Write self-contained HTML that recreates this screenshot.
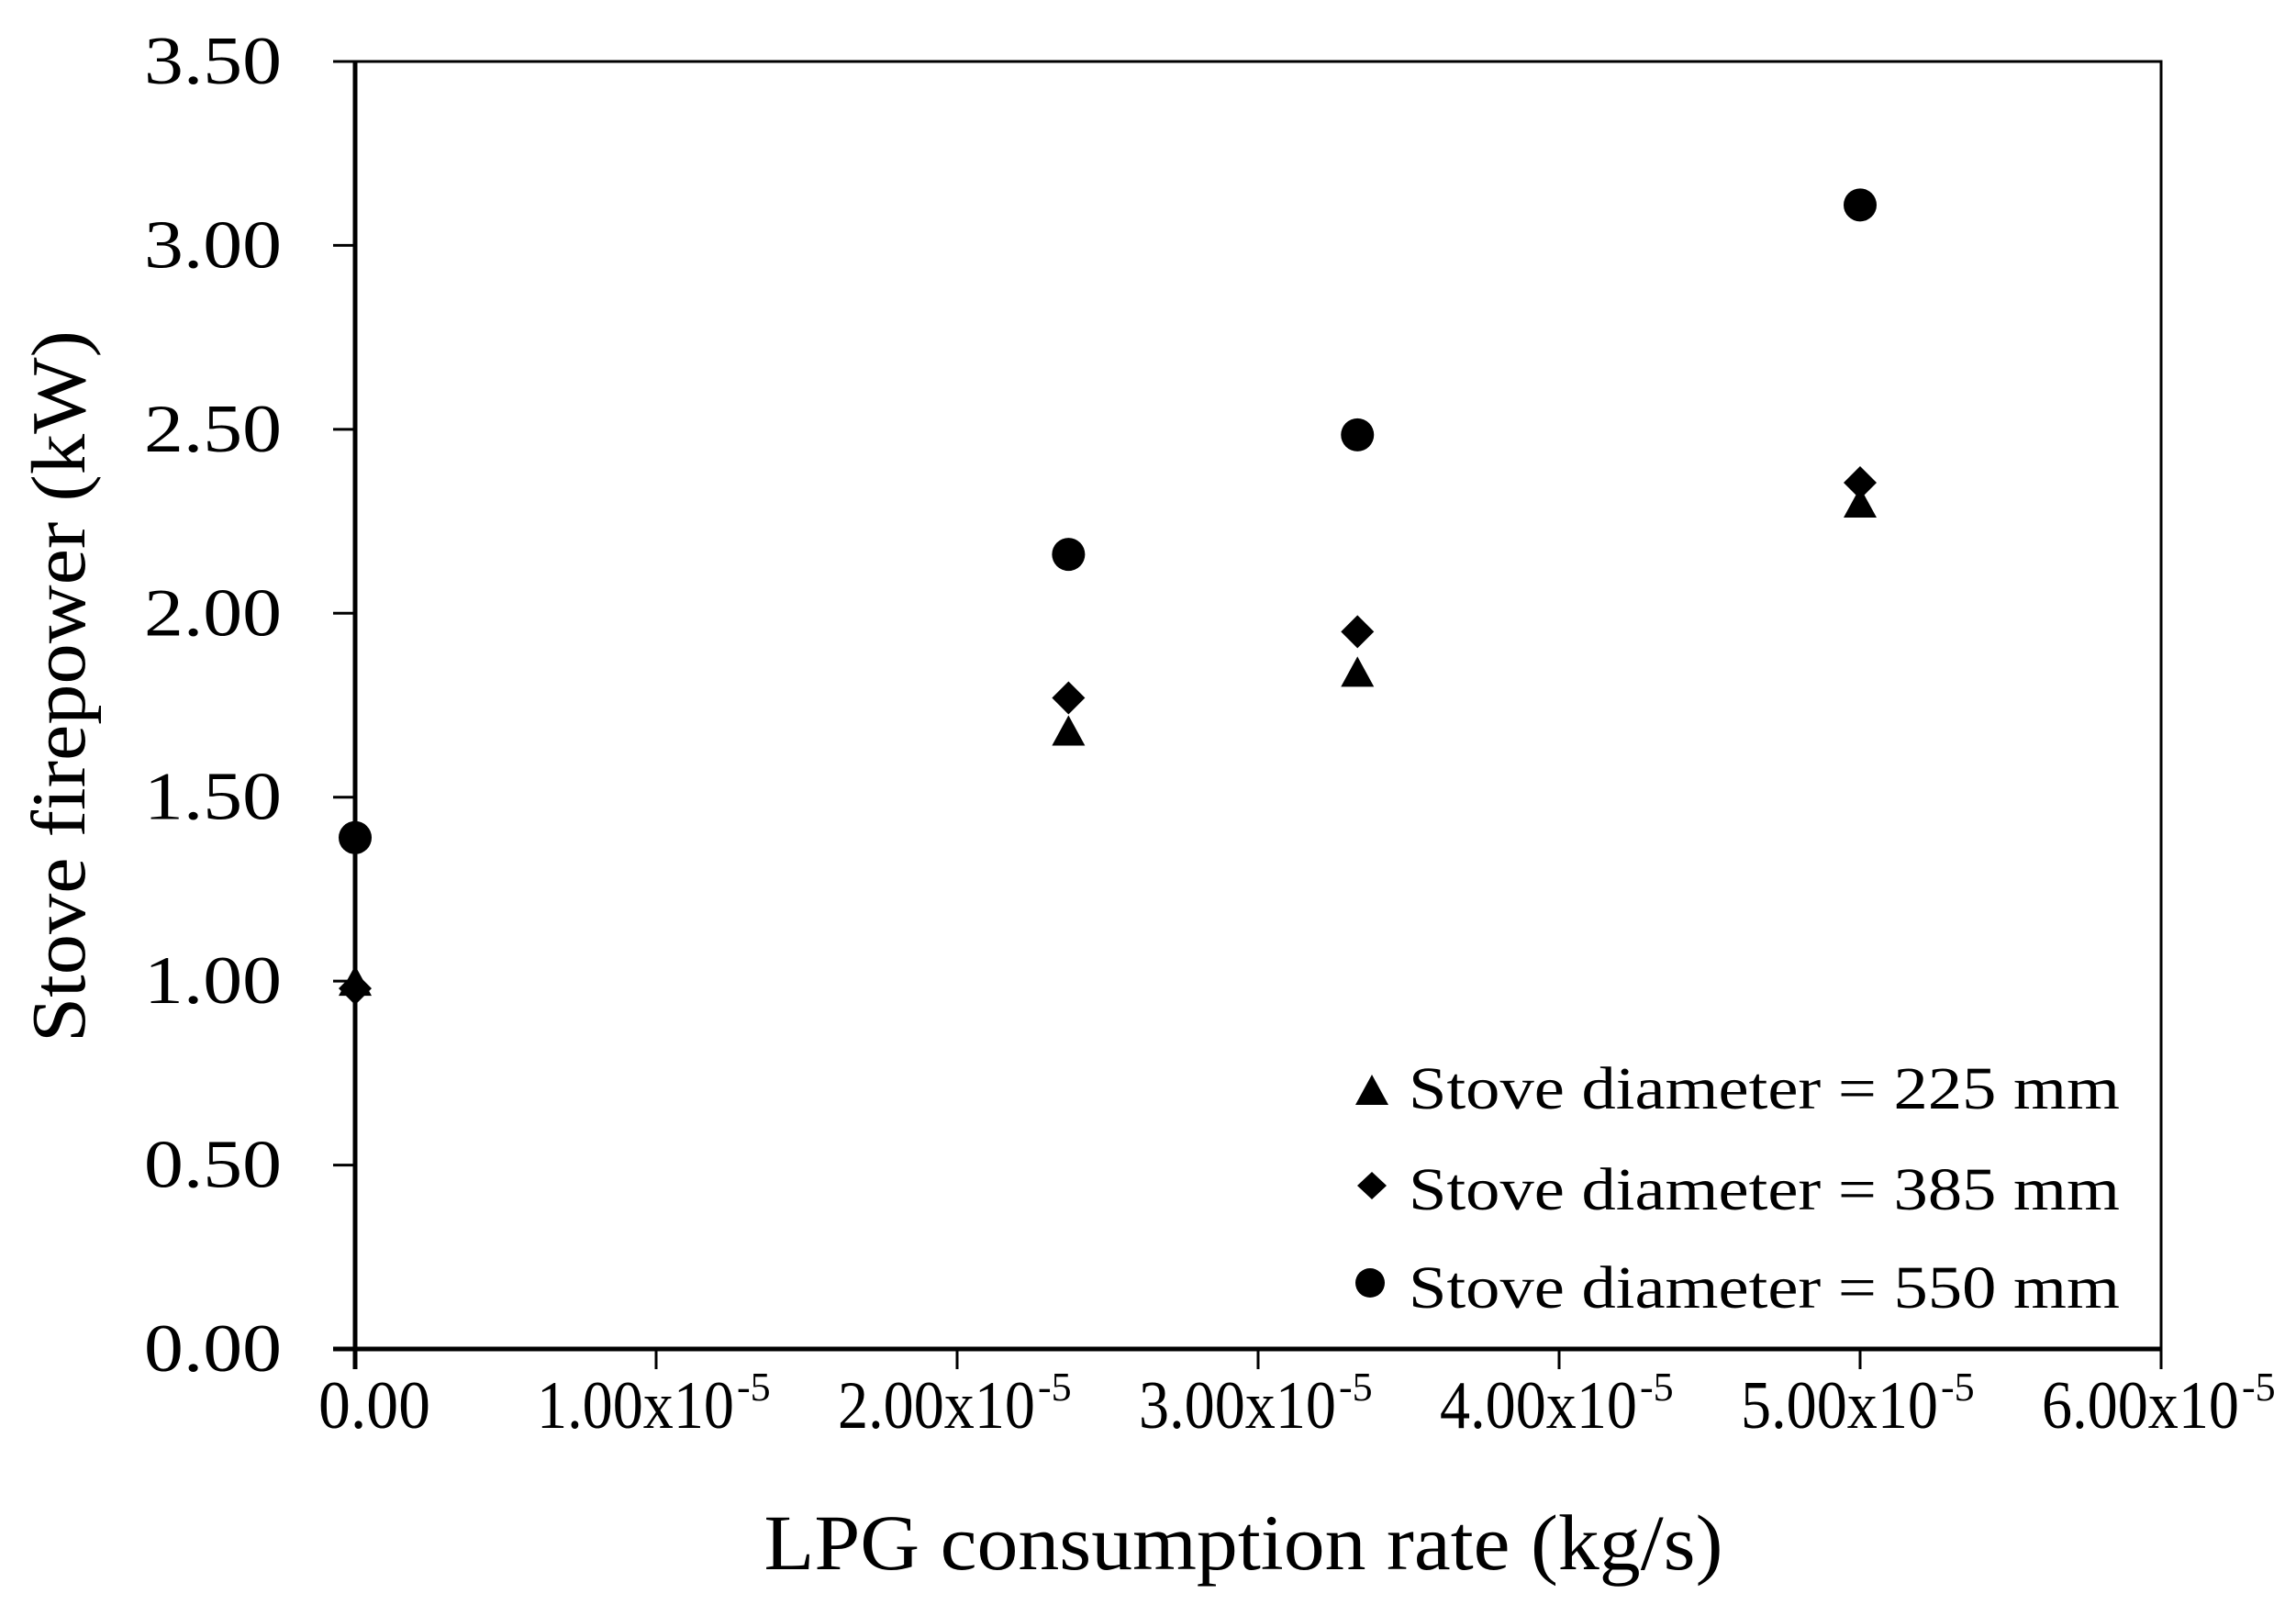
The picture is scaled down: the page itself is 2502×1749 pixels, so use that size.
<!DOCTYPE html>
<html><head><meta charset="utf-8"><style>
html,body{margin:0;padding:0;background:#fff}
svg{display:block}
text{font-family:"Liberation Serif",serif;fill:#000}
</style></head><body>
<svg id="chart" width="2502" height="1749" viewBox="0 0 2502 1749" xmlns="http://www.w3.org/2000/svg">
<rect x="387" y="67" width="1968" height="1403" fill="#fff" stroke="#000" stroke-width="3"/>
<g id="axes"></g>
<g id="marks"></g>
<text transform="translate(92,748) rotate(-90)" text-anchor="middle" font-size="84" textLength="776" lengthAdjust="spacingAndGlyphs">Stove firepower (kW)</text>
<text x="1355" y="1710" text-anchor="middle" font-size="86" textLength="1045" lengthAdjust="spacingAndGlyphs">LPG consumption rate (kg/s)</text>
<g>
<polygon points="1495,1171 1513,1204 1477,1204" fill="#000"/>
<text x="1535" y="1208" font-size="66" textLength="775" lengthAdjust="spacingAndGlyphs">Stove diameter = 225 mm</text>
<polygon points="1495,1277 1511,1292 1495,1307 1479,1292" fill="#000"/>
<text x="1535" y="1318" font-size="66" textLength="775" lengthAdjust="spacingAndGlyphs">Stove diameter = 385 mm</text>
<circle cx="1493" cy="1398" r="16" fill="#000"/>
<text x="1535" y="1425" font-size="66" textLength="775" lengthAdjust="spacingAndGlyphs">Stove diameter = 550 mm</text>
</g>
</svg>
<script>
const xValues = [0, 2.37, 3.33, 5.0];
const y225 = [1.00, 1.68, 1.84, 2.30];
const y385 = [0.98, 1.77, 1.95, 2.355];
const y550 = [1.39, 2.16, 2.485, 3.11];
const yTicks = [0, 0.5, 1, 1.5, 2, 2.5, 3, 3.5];
const yTickLabels = ["0.00","0.50","1.00","1.50","2.00","2.50","3.00","3.50"];
const xTicks = [0, 1, 2, 3, 4, 5, 6];
const xTickLabels = ["0.00","1.00x10","2.00x10","3.00x10","4.00x10","5.00x10","6.00x10"];

const NS = "http://www.w3.org/2000/svg";
const X0 = 387, X1 = 2355, Y0 = 1470, Y1 = 67;
function sx(v){ return X0 + v / 6 * (X1 - X0); }
function sy(v){ return Y0 - v / 3.5 * (Y0 - Y1); }
function mk(tag, attrs, parent){ const e = document.createElementNS(NS, tag); for (const k in attrs) e.setAttribute(k, attrs[k]); parent.appendChild(e); return e; }
const axes = document.getElementById('axes');
const marks = document.getElementById('marks');

yTicks.forEach((t, i) => {
  const l = mk('line', {x1: X0 - 24, x2: X0, y1: sy(t), y2: sy(t), stroke: '#000', 'stroke-width': 3}, axes);
  
  
  const tx = mk('text', {x: 307, y: sy(t) + 24, 'text-anchor': 'end', 'font-size': 74, textLength: 150, lengthAdjust: 'spacingAndGlyphs'}, axes);
  tx.textContent = yTickLabels[i];
  
  
});
xTicks.forEach((t, i) => {
  const l = mk('line', {x1: sx(t), x2: sx(t), y1: Y0, y2: Y0 + 22, stroke: '#000', 'stroke-width': 3}, axes);
  
  
  if (i === 0) {
    const tx = mk('text', {x: sx(t) - 40, y: 1556, 'font-size': 74, textLength: 122, lengthAdjust: 'spacingAndGlyphs'}, axes);
    tx.textContent = xTickLabels[i];
    
    
  } else {
    const tx = mk('text', {x: sx(t) - 130, y: 1556, 'font-size': 74, textLength: 215, lengthAdjust: 'spacingAndGlyphs'}, axes);
    tx.textContent = xTickLabels[i];
    
    
    const sp = mk('text', {x: sx(t) + 88, y: 1526, 'font-size': 44}, axes);
    sp.textContent = '-5';
    
    
  }
});
const bx = mk('line', {x1: X0 - 24, x2: X1, y1: Y0, y2: Y0, stroke: '#000', 'stroke-width': 5}, axes);


const lx = mk('line', {x1: X0, x2: X0, y1: Y1, y2: Y0 + 22, stroke: '#000', 'stroke-width': 5}, axes);



xValues.forEach((xv, i) => {
  const cx = sx(xv);
  let y = sy(y225[i]);
  const tri = mk('polygon', {points: `${cx},${y-17} ${cx+18},${y+16} ${cx-18},${y+16}`, fill: '#000'}, marks);
  
  
  y = sy(y385[i]);
  const dia = mk('polygon', {points: `${cx},${y-18} ${cx+18},${y} ${cx},${y+18} ${cx-18},${y}`, fill: '#000'}, marks);
  
  
  y = sy(y550[i]);
  const c = mk('circle', {cx: cx, cy: y, r: 18, fill: '#000'}, marks);
  
  
});
</script>
</body></html>
